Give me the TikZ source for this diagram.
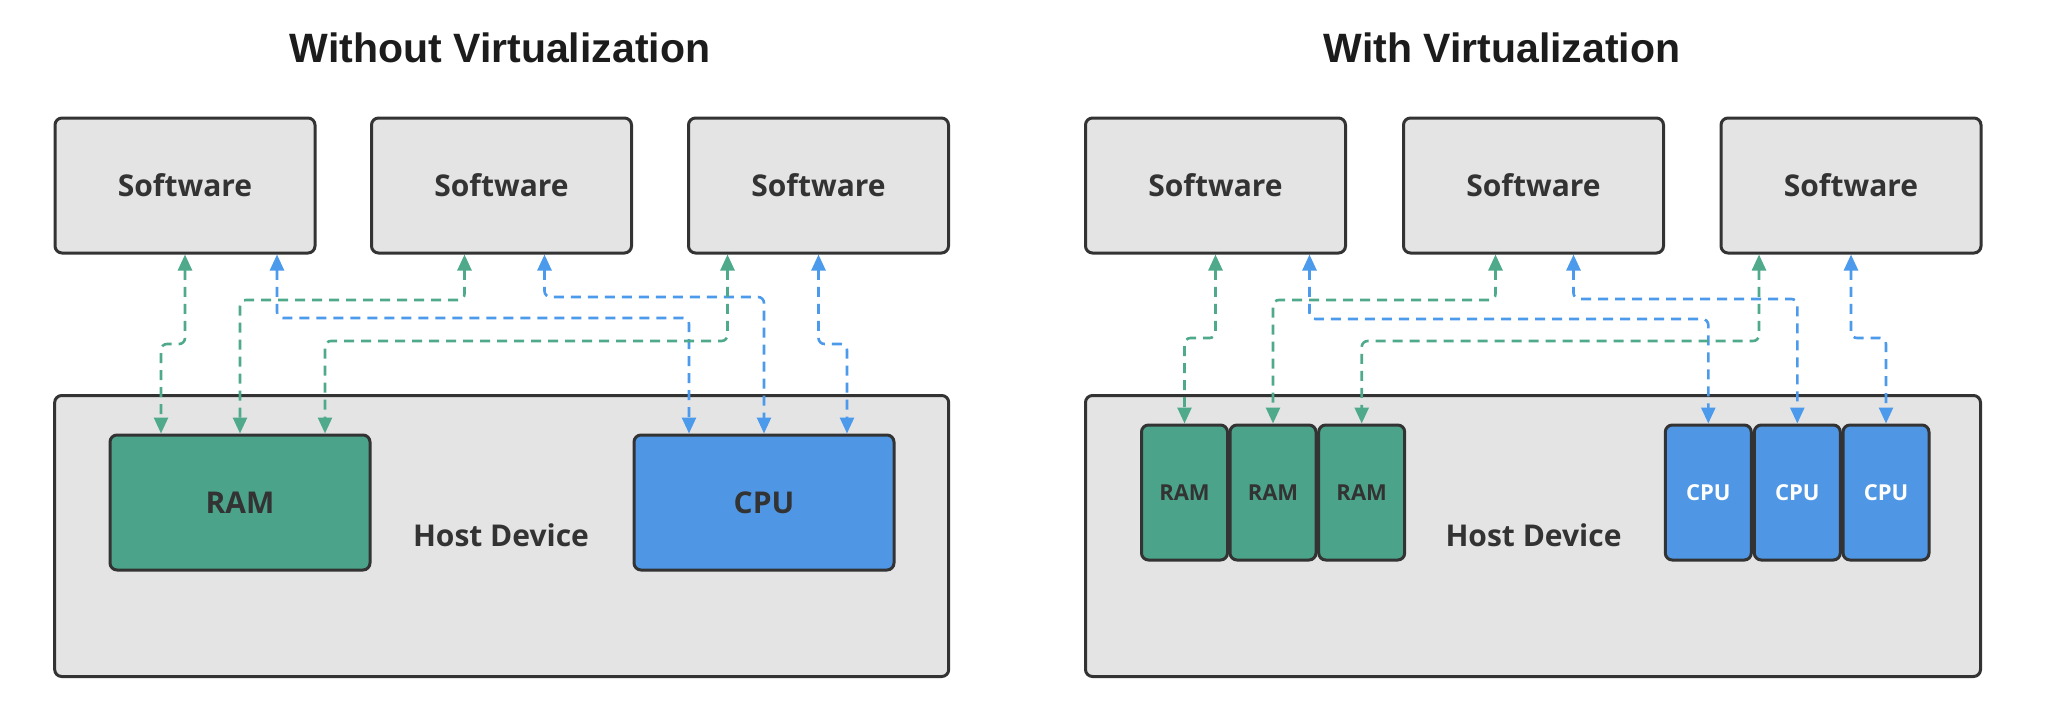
\documentclass[tikz,border=0pt]{standalone}
\usepackage{fontspec}
\setmainfont{Open Sans}
\newfontfamily\titlefont{Liberation Sans}
\usepackage{tikz}
\usetikzlibrary{arrows.meta}
\pgfdeclarelayer{back}
\pgfdeclarelayer{bg}
\pgfsetlayers{back,bg,main}

\definecolor{boxgray}{HTML}{E4E4E4}
\definecolor{edgedark}{HTML}{333333}
\definecolor{ramgreen}{HTML}{4BA48A}
\definecolor{cpublue}{HTML}{4F97E5}
\definecolor{linkgreen}{HTML}{4FAA8B}
\definecolor{linkblue}{HTML}{4C9AEB}

\tikzset{
  box/.style={draw=edgedark, line width=3pt, rounded corners=7pt, inner sep=0pt,
    text=edgedark, font=\fontsize{30}{36}\selectfont\bfseries},
  soft/.style={box, fill=boxgray, minimum width=260, minimum height=135},
  host/.style={box, fill=boxgray, minimum width=894, minimum height=281},
  ram/.style={box, fill=ramgreen, minimum width=260, minimum height=135},
  cpu/.style={box, fill=cpublue, minimum width=260, minimum height=135},
  ramslot/.style={box, fill=ramgreen, minimum width=86, minimum height=135,
    font=\fontsize{22}{26}\selectfont\bfseries},
  cpuslot/.style={ramslot, fill=cpublue, text=white},
  flow/.style={dashed, dash pattern=on 10pt off 7pt, line width=2.6pt, rounded corners=6pt,
    {Triangle[width=14pt,length=16pt]}-{Triangle[width=14pt,length=16pt]}},
  gflow/.style={flow, draw=linkgreen},
  bflow/.style={flow, draw=linkblue},
}

\begin{document}
\begin{tikzpicture}[x=1pt, y=-1pt]
        \useasboundingbox (0,0) rectangle (2046,716);
        % titles
        \node (ta) at (500, 48) {\titlefont\fontsize{41}{48}\selectfont\bfseries\color[HTML]{1C1C1C}Without Virtualization};
        \node (tb) at (1502, 48) {\titlefont\fontsize{41}{48}\selectfont\bfseries\color[HTML]{1C1C1C}With Virtualization};
        % without virtualization
        \node (sa1) [soft] at (185, 185.5) {Software};
        \node (sa2) [soft] at (501.5, 185.5) {Software};
        \node (sa3) [soft] at (818.5, 185.5) {Software};
        \begin{pgfonlayer}{back}
                \node (hosta) [host] at (501.7, 536) {};
        \end{pgfonlayer}
        \node (hla) [text=edgedark, font=\fontsize{30}{36}\selectfont\bfseries] at (501, 535) {Host Device};
        \node (rama) [ram] at (240, 502.5) {RAM};
        \node (cpua) [cpu] at (764, 502.5) {CPU};
        % with virtualization
        \node (sb1) [soft] at (1215.5, 185.5) {Software};
        \node (sb2) [soft] at (1533.5, 185.5) {Software};
        \node (sb3) [soft] at (1851, 185.5) {Software};
        \begin{pgfonlayer}{back}
                \node (hostb) [host, minimum width=895] at (1533, 536) {};
        \end{pgfonlayer}
        \node (hlb) [text=edgedark, font=\fontsize{30}{36}\selectfont\bfseries] at (1533.5, 535) {Host Device};
        \node (rb1) [ramslot] at (1184.5, 492.5) {RAM};
        \node (rb2) [ramslot] at (1273, 492.5) {RAM};
        \node (rb3) [ramslot] at (1361.7, 492.5) {RAM};
        \node (cb1) [cpuslot] at (1708.3, 492.5) {CPU};
        \node (cb2) [cpuslot] at (1797.3, 492.5) {CPU};
        \node (cb3) [cpuslot] at (1886, 492.5) {CPU};
        \begin{pgfonlayer}{bg}
                \draw[gflow] (sa1.south) -- (sa1.south |- 0,344) -| ([xshift=-79]rama.north);
                \draw[bflow] ([xshift=92]sa1.south) -- ([xshift=92]sa1.south |- 0,318) -| ([xshift=-75]cpua.north);
                \draw[gflow] ([xshift=-37]sa2.south) -- ([xshift=-37]sa2.south |- 0,300) -| (rama.north);
                \draw[bflow] ([xshift=43]sa2.south) -- ([xshift=43]sa2.south |- 0,297) -| (cpua.north);
                \draw[gflow] ([xshift=-91]sa3.south) -- ([xshift=-91]sa3.south |- 0,341) -| ([xshift=85]rama.north);
                \draw[bflow] (sa3.south) -- (sa3.south |- 0,344) -| ([xshift=83]cpua.north);
                \draw[gflow] (sb1.south) -- (sb1.south |- 0,338) -| (rb1.north);
                \draw[bflow] ([xshift=94]sb1.south) -- ([xshift=94]sb1.south |- 0,319) -| (cb1.north);
                \draw[gflow] ([xshift=-38]sb2.south) -- ([xshift=-38]sb2.south |- 0,300) -| (rb2.north);
                \draw[bflow] ([xshift=40]sb2.south) -- ([xshift=40]sb2.south |- 0,299) -| (cb2.north);
                \draw[gflow] ([xshift=-92]sb3.south) -- ([xshift=-92]sb3.south |- 0,341) -| (rb3.north);
                \draw[bflow] (sb3.south) -- (sb3.south |- 0,338) -| (cb3.north);
        \end{pgfonlayer}
\end{tikzpicture}
\end{document}
